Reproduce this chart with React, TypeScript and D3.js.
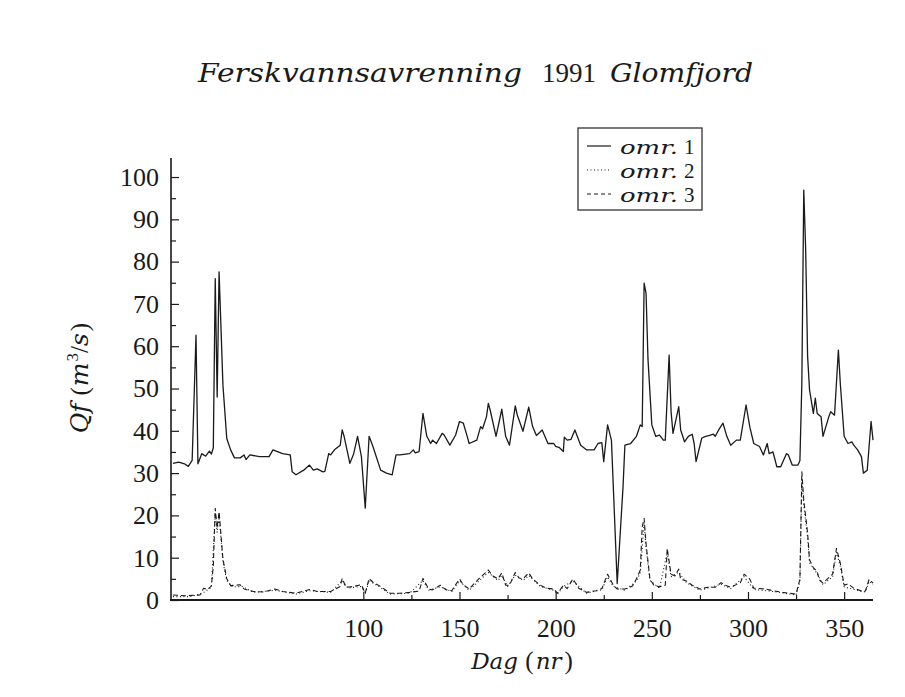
import React, { useEffect, useRef } from 'react';
import * as d3 from 'd3';

// [day, Qf m3/s]
const omr1: [number, number][] = [
  [1, 32.3], [4, 32.6], [7, 32.2], [9, 31.6], [11, 33.0], [13, 62.6], [14, 32.2], [16, 34.6], [18, 34.0],
  [20, 35.2], [21, 34.5], [22, 36], [23, 76], [24, 48], [25, 77.6], [27, 50.8], [29, 38.2], [31, 35.5],
  [33, 33.6], [36, 33.6], [38, 34.3], [39, 33.2], [41, 34.3], [46, 33.9], [51, 33.9], [53, 35.5], [58, 34.6],
  [62, 34.3], [63, 30.3], [65, 29.6], [69, 30.7], [72, 31.9], [74, 30.7], [76, 31.0], [79, 30.3], [80, 30.4],
  [82, 34.6], [83, 34.3], [85, 35.5], [88, 36.6], [89, 40.2], [90, 38.7], [93, 32.3], [95, 34.6], [97, 38.7],
  [99, 33.9], [101, 21.7], [103, 38.7], [105, 36.3], [109, 30.7], [112, 30.0], [115, 29.6], [117, 34.3],
  [119, 34.3], [124, 34.6], [126, 35.5], [127, 34.8], [129, 35.1], [131, 44.1], [133, 38.7], [135, 37],
  [136, 37.8], [138, 37], [141, 39.4], [142, 39], [145, 36.6], [148, 39], [150, 42.2], [152, 41.8], [154, 38.7],
  [155, 37], [159, 37.8], [161, 41], [162, 40.5], [164, 43.3], [165, 46.5], [166, 44.8], [169, 38.7],
  [172, 45.1], [174, 38.7], [176, 36.6], [179, 45.9], [180, 43.8], [183, 39.9], [186, 45.6], [188, 41],
  [190, 38.9], [193, 40.2], [196, 37], [199, 37], [200, 36.3], [202, 36], [204, 35.1], [204.5, 38.5],
  [206, 37.8], [208, 38], [210, 40.2], [213, 36.6], [216, 35.5], [220, 35.5], [222, 37], [224, 37.2],
  [225, 32.7], [227, 41.4], [229, 37.8], [232, 3.9], [235, 26.5], [236, 36.6], [239, 37], [242, 38.7],
  [244, 41.4], [245, 41], [246, 74.9], [247, 72.5], [248, 57], [250, 41.4], [252, 38.7], [254, 39],
  [256, 37.8], [257, 37.8], [259, 57.9], [260, 44.6], [261, 39.4], [264, 45.7], [265, 40.2], [267, 37.4],
  [269, 38.7], [271, 39.2], [272, 37], [273, 32.7], [276, 38.3], [278, 38.7], [280, 38.9], [282, 39.2],
  [283, 38.7], [285, 40.4], [287, 41.8], [289, 38.7], [291, 36.6], [294, 37.8], [296, 37.8], [299, 46.1],
  [301, 40.8], [303, 37], [306, 36.3], [308, 34.3], [310, 37], [311, 34.6], [313, 35], [315, 31.5],
  [317, 31.5], [320, 34.6], [321, 34.3], [323, 31.9], [326, 31.9], [327, 33], [328, 51.2], [329, 96.9],
  [330, 82.7], [331, 57.6], [332, 49.7], [334, 44.1], [335, 47.7], [336, 44.1], [338, 43.3], [339, 38.7],
  [342, 43.3], [343, 44.5], [345, 43.7], [347, 59.1], [348, 51.2], [350, 38.7], [352, 37], [354, 37.4],
  [355, 36.6], [357, 35.5], [359, 33.9], [360, 30], [362, 30.7], [364, 42.2], [365, 37.8],
];

const omr2: [number, number][] = [
  [1, 0.8], [10, 0.8], [16, 1.5], [19, 2.4], [21, 3.0], [23, 20.5], [24, 16], [25, 20], [27, 9], [29, 4.6],
  [32, 3.1], [37, 3.2], [43, 1.8], [54, 2.3], [65, 1.4], [72, 2.2], [83, 1.8], [89, 4.6], [92, 2.8],
  [99, 3.2], [101, 1.4], [103, 4.6], [109, 2.9], [114, 1.4], [124, 1.6], [131, 4.6], [134, 2.3], [140, 3.1],
  [146, 2.0], [150, 4.5], [155, 2.3], [162, 5.3], [165, 6.5], [170, 4.6], [172, 5.8], [175, 3.2], [179, 5.9],
  [183, 4.6], [186, 5.8], [192, 3.2], [199, 2.3], [201, 1.4], [204, 3.2], [209, 4.5], [216, 1.6], [224, 2.4],
  [227, 5.5], [230, 3.2], [236, 2.3], [242, 4.5], [244, 6.5], [246, 18.2], [247, 12.4], [249, 4.6],
  [254, 2.8], [258, 11.3], [260, 5.5], [264, 6.6], [268, 4.1], [275, 2.3], [286, 3.7], [291, 2.7],
  [298, 5.5], [303, 2.5], [313, 2.0], [325, 1.2], [327, 4.4], [328, 28.5], [329, 22.4], [331, 14.8],
  [332, 8.8], [336, 6.2], [339, 3.6], [344, 5.5], [346, 11.3], [348, 8.0], [350, 3.1], [355, 2.5],
  [361, 1.9], [363, 4.4], [365, 3.6],
];

const omr3: [number, number][] = [
  [1, 1.2], [8, 1.0], [15, 1.2], [17, 2.8], [19, 2.5], [21, 3.3], [22, 8], [23, 21.7], [24, 17], [25, 20.9],
  [27, 9.7], [29, 5], [31, 3.4], [36, 3.6], [38, 2.6], [43, 2.0], [48, 1.9], [54, 2.6], [58, 2.0], [65, 1.6],
  [72, 2.5], [76, 2.0], [83, 2.0], [88, 3.2], [89, 5.1], [91, 3.0], [95, 3.2], [99, 3.6], [101, 1.6],
  [103, 5.1], [105, 4.2], [109, 3.2], [114, 1.6], [119, 1.6], [124, 1.8], [129, 2.1], [131, 5.1], [134, 2.6],
  [136, 2.4], [140, 3.5], [143, 2.4], [146, 2.2], [150, 5], [152, 3.6], [155, 2.6], [160, 5], [162, 5.8],
  [165, 7.1], [167, 5.8], [170, 5], [172, 6.4], [174, 3.5], [176, 3.5], [179, 6.5], [181, 5.2], [183, 5],
  [186, 6.4], [188, 5], [192, 3.5], [195, 2.8], [199, 2.6], [201, 1.6], [204, 3.5], [206, 2.7], [209, 5],
  [212, 2.8], [216, 1.8], [221, 2.2], [224, 2.7], [227, 6.1], [230, 3.5], [232, 2.6], [236, 2.6], [240, 3.3],
  [242, 5], [244, 7.1], [245, 17.3], [246, 19.3], [247, 13.3], [249, 5], [251, 3.5], [254, 3.1], [257, 3.5],
  [258, 12.2], [260, 6.1], [262, 5.7], [264, 7.3], [265, 4.9], [268, 4.5], [271, 3.5], [275, 2.6], [279, 3.0],
  [283, 3.0], [286, 4.1], [288, 3.5], [291, 3.0], [296, 4.1], [298, 6.1], [301, 4.9], [303, 2.8], [309, 2.6],
  [313, 2.2], [318, 1.8], [325, 1.4], [327, 4.9], [328, 30.3], [329, 23.6], [331, 15.8], [332, 9.5],
  [334, 7.6], [336, 6.8], [337, 4.8], [339, 4], [342, 5.3], [344, 6.1], [346, 12.2], [348, 8.7], [350, 3.5],
  [352, 3.8], [355, 2.8], [359, 2.1], [361, 2.1], [363, 4.9], [365, 4.0],
];

const xTicks = [100, 150, 200, 250, 300, 350];
const xMinorTicks = [125, 175, 225, 275, 325];
const yTicks = [0, 10, 20, 30, 40, 50, 60, 70, 80, 90, 100];
const yMinorTicks = [5, 15, 25, 35, 45, 55, 65, 75, 85, 95];
const legendLabels = ['1', '2', '3'];

const W = 905;
const H = 697;
const ITAL = '"DejaVu Serif", serif';
const ROMAN = '"Liberation Serif", serif';

const Chart: React.FC = () => {
  const ref = useRef<SVGSVGElement>(null);

  useEffect(() => {
    if (!ref.current) return;
    const svg = d3.select(ref.current);
    svg.selectAll('*').remove();

    const x = d3.scaleLinear().domain([0, 365]).range([171, 873]);
    const y = d3.scaleLinear().domain([0, 104.5]).range([600, 158]);
    const ink = '#1a1a1a';

    // title, three pieces (italic / roman / italic)
    const title = svg.append('g').attr('fill', ink);
    title.append('text').attr('x', 198).attr('y', 82).attr('font-family', ITAL).attr('font-style', 'italic')
      .attr('font-size', 26).attr('textLength', 324).attr('lengthAdjust', 'spacingAndGlyphs').text('Ferskvannsavrenning');
    title.append('text').attr('x', 542).attr('y', 82).attr('font-family', ROMAN)
      .attr('font-size', 28).attr('textLength', 54).attr('lengthAdjust', 'spacingAndGlyphs').text('1991');
    title.append('text').attr('x', 610).attr('y', 82).attr('font-family', ITAL).attr('font-style', 'italic')
      .attr('font-size', 26).attr('textLength', 143).attr('lengthAdjust', 'spacingAndGlyphs').text('Glomfjord');

    // y axis: minor then major ticks, pointing inwards
    svg.append('g').attr('transform', 'translate(171,0)')
      .call(d3.axisLeft(y).tickValues(yMinorTicks).tickSizeInner(-5).tickSizeOuter(0).tickFormat(() => ''))
      .call((g) => g.select('.domain').remove())
      .call((g) => g.selectAll('.tick line').attr('stroke', ink).attr('stroke-width', 1.2));
    svg.append('g').attr('transform', 'translate(171,0)')
      .call(d3.axisLeft(y).tickValues(yTicks).tickSizeInner(-8).tickSizeOuter(0).tickPadding(12))
      .call((g) => g.select('.domain').remove())
      .call((g) => g.selectAll('.tick line').attr('stroke', ink).attr('stroke-width', 1.2))
      .call((g) => g.selectAll('.tick text').attr('fill', ink).attr('font-size', 26).attr('font-family', ROMAN));

    // x axis
    svg.append('g').attr('transform', 'translate(0,600)')
      .call(d3.axisBottom(x).tickValues(xMinorTicks).tickSizeInner(-5).tickSizeOuter(0).tickFormat(() => ''))
      .call((g) => g.select('.domain').remove())
      .call((g) => g.selectAll('.tick line').attr('stroke', ink).attr('stroke-width', 1.2));
    svg.append('g').attr('transform', 'translate(0,600)')
      .call(d3.axisBottom(x).tickValues(xTicks).tickSizeInner(-8).tickSizeOuter(0).tickPadding(19))
      .call((g) => g.select('.domain').remove())
      .call((g) => g.selectAll('.tick line').attr('stroke', ink).attr('stroke-width', 1.2))
      .call((g) => g.selectAll('.tick text').attr('fill', ink).attr('font-size', 26).attr('font-family', ROMAN));

    svg.append('line').attr('x1', 171).attr('x2', 171).attr('y1', y(104.5)).attr('y2', 601)
      .attr('stroke', ink).attr('stroke-width', 1.6);
    svg.append('line').attr('x1', 170).attr('x2', x(365)).attr('y1', 600).attr('y2', 600)
      .attr('stroke', ink).attr('stroke-width', 2);

    // axis titles
    const xl = svg.append('text').attr('x', 522).attr('y', 669).attr('text-anchor', 'middle')
      .attr('fill', ink).attr('font-size', 23).attr('font-family', ROMAN);
    xl.append('tspan').attr('font-family', ITAL).attr('font-style', 'italic').text('Dag ');
    xl.append('tspan').attr('font-size', 25).text('(');
    xl.append('tspan').attr('dx', 2).attr('font-family', ITAL).attr('font-style', 'italic').text('nr');
    xl.append('tspan').attr('dx', 3).attr('font-size', 25).text(')');

    const yl = svg.append('text').attr('transform', 'translate(88,378) rotate(-90)')
      .attr('text-anchor', 'middle').attr('fill', ink).attr('font-size', 25).attr('font-family', ROMAN);
    yl.append('tspan').attr('font-family', ITAL).attr('font-style', 'italic').text('Qf ');
    yl.append('tspan').text('(');
    yl.append('tspan').attr('dx', 1).attr('font-family', ITAL).attr('font-style', 'italic').text('m');
    yl.append('tspan').attr('dx', 1).attr('font-size', 17).attr('dy', -10).text('3');
    yl.append('tspan').attr('dy', 10).text('/');
    yl.append('tspan').attr('font-family', ITAL).attr('font-style', 'italic').text('s');
    yl.append('tspan').attr('dx', 2).text(')');

    // series
    const line = d3.line<[number, number]>().x((d) => x(d[0])).y((d) => y(d[1]));
    const series = [
      { data: omr3, dash: '5,3', width: 1.1 },
      { data: omr2, dash: '1,2.5', width: 1.1 },
      { data: omr1, dash: null, width: 1.3 },
    ];
    series.forEach((s) => {
      svg.append('path').datum(s.data).attr('d', line).attr('fill', 'none')
        .attr('stroke', ink).attr('stroke-width', s.width)
        .attr('stroke-dasharray', s.dash).attr('stroke-linejoin', 'round');
    });

    // legend
    const lg = svg.append('g');
    lg.append('rect').attr('x', 578).attr('y', 128).attr('width', 124).attr('height', 82)
      .attr('fill', 'white').attr('stroke', '#333').attr('stroke-width', 1.3);
    const dashes = [null, '1,2.5', '4,3'];
    legendLabels.forEach((lab, i) => {
      const cy = 146 + i * 24;
      lg.append('line').attr('x1', 587).attr('x2', 611).attr('y1', cy).attr('y2', cy)
        .attr('stroke', ink).attr('stroke-width', 1.2).attr('stroke-dasharray', dashes[i]);
      lg.append('text').attr('x', 620).attr('y', cy + 8).attr('font-family', ITAL).attr('font-style', 'italic')
        .attr('font-size', 19).attr('fill', ink).attr('textLength', 58).attr('lengthAdjust', 'spacingAndGlyphs').text('omr.');
      lg.append('text').attr('x', 684).attr('y', cy + 8).attr('font-family', ROMAN)
        .attr('font-size', 21).attr('fill', ink).text(lab);
    });
  }, []);

  return <svg ref={ref} width={W} height={H} style={{ display: 'block', background: 'white' }} />;
};

export default function App() {
  return (
    <div style={{ position: 'absolute', left: 0, top: 0, width: W, height: H, background: 'white' }}>
      <Chart />
    </div>
  );
}
